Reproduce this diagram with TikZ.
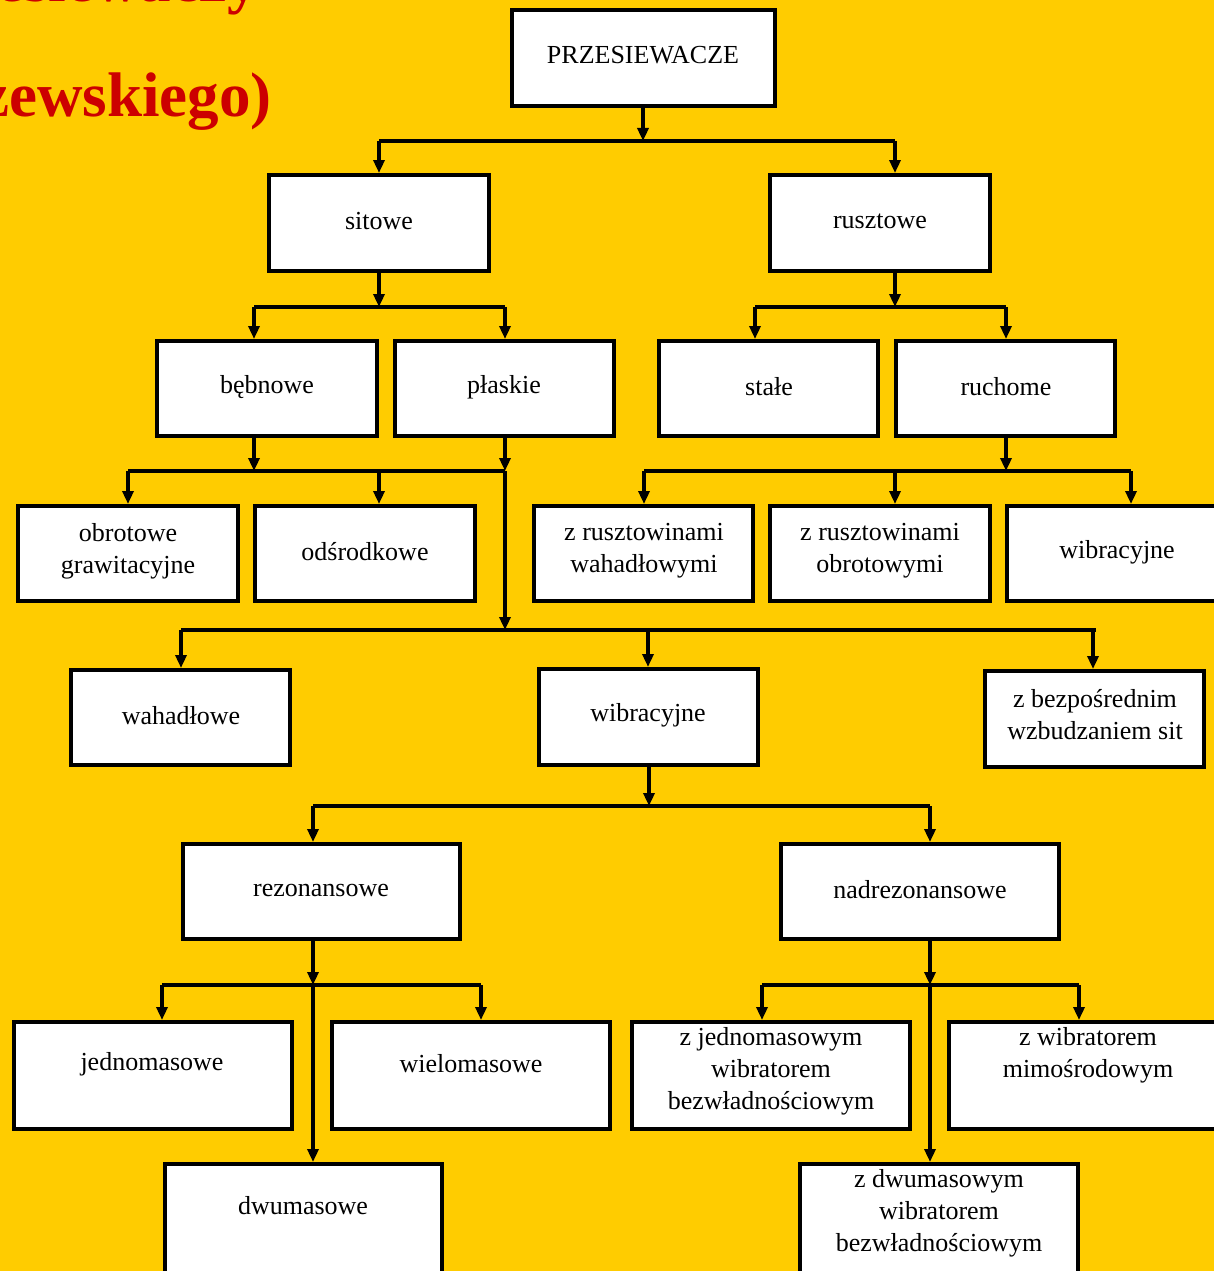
\documentclass[tikz,border=0pt]{standalone}
\usepackage{fontspec}
\setmainfont{Liberation Serif}
\usetikzlibrary{arrows.meta}
\definecolor{bgyellow}{HTML}{FFCC00}
\definecolor{titlered}{HTML}{CC0000}
\tikzset{
  box/.style={draw=black, line width=4pt, fill=white, inner sep=0pt,
              anchor=north west, minimum height=95pt},
  lbl/.style={align=center, inner sep=0pt, font=\fontsize{26}{32}\selectfont},
  wire/.style={line width=3.5pt, draw=black},
  arr/.style={wire, -{Triangle[length=13pt,width=11pt]}},
  headline/.style={text=titlered, inner sep=0pt, anchor=base east,
                   font=\fontsize{63}{70}\selectfont\bfseries},
}
\begin{document}
\begin{tikzpicture}[x=1pt, y=-1pt]
\fill[bgyellow] (0,0) rectangle (1214,1271);
\useasboundingbox (0,0) rectangle (1214,1271);

% heading, partly outside the page
\node[headline] (head1) at (259,2) {Klasyfikacja przesiewaczy};
\node[headline] (head2) at (272,117) {(wg Banaszewskiego)};

% boxes (placed by their outer top-left corner)
\node[box, minimum width=263pt, minimum height=96pt] (przes) at (510,8) {};
\node[box, minimum width=220pt, minimum height=96pt] (sitowe) at (267,173) {};
\node[box, minimum width=220pt, minimum height=96pt] (ruszt) at (768,173) {};
\node[box, minimum width=220pt] (bebn) at (155,339) {};
\node[box, minimum width=219pt] (plask) at (393,339) {};
\node[box, minimum width=219pt] (stale) at (657,339) {};
\node[box, minimum width=219pt] (ruch) at (894,339) {};
\node[box, minimum width=220pt] (obrgr) at (16,504) {};
\node[box, minimum width=220pt] (odsr) at (253,504) {};
\node[box, minimum width=219pt] (zrwah) at (532,504) {};
\node[box, minimum width=220pt] (zrobr) at (768,504) {};
\node[box, minimum width=240pt] (wibra) at (1005,504) {};
\node[box, minimum width=219pt] (wahad) at (69,668) {};
\node[box, minimum width=219pt, minimum height=96pt] (wibrb) at (537,667) {};
\node[box, minimum width=219pt, minimum height=96pt] (zbezp) at (983,669) {};
\node[box, minimum width=277pt] (rezon) at (181,842) {};
\node[box, minimum width=278pt] (nadrez) at (779,842) {};
\node[box, minimum width=278pt, minimum height=107pt] (jedno) at (12,1020) {};
\node[box, minimum width=278pt, minimum height=107pt] (wielo) at (330,1020) {};
\node[box, minimum width=278pt, minimum height=107pt] (zjedno) at (630,1020) {};
\node[box, minimum width=300pt, minimum height=107pt] (zwibr) at (947,1020) {};
\node[box, minimum width=277pt, minimum height=140pt] (dwu) at (163,1162) {};
\node[box, minimum width=278pt, minimum height=140pt] (zdwu) at (798,1162) {};

% labels
\node[lbl] (t-przes) at (643,55) {PRZESIEWACZE};
\node[lbl] (t-sitowe) at (379,221) {sitowe};
\node[lbl] (t-ruszt) at (880,221) {rusztowe};
\node[lbl] (t-bebn) at (267,387) {bębnowe};
\node[lbl] (t-plask) at (504,387) {płaskie};
\node[lbl] (t-stale) at (769,387) {stałe};
\node[lbl] (t-ruch) at (1006,387) {ruchome};
\node[lbl] (t-obrgr) at (128,551) {obrotowe\\grawitacyjne};
\node[lbl] (t-odsr) at (365,552) {odśrodkowe};
\node[lbl] (t-zrwah) at (644,551) {z rusztowinami\\wahadłowymi};
\node[lbl] (t-zrobr) at (880,551) {z rusztowinami\\obrotowymi};
\node[lbl] (t-wibra) at (1117,552) {wibracyjne};
\node[lbl] (t-wahad) at (181,716) {wahadłowe};
\node[lbl] (t-wibrb) at (648,715) {wibracyjne};
\node[lbl] (t-zbezp) at (1095,715) {z bezpośrednim\\wzbudzaniem sit};
\node[lbl] (t-rezon) at (321,890) {rezonansowe};
\node[lbl] (t-nadrez) at (920,890) {nadrezonansowe};
\node[lbl] (t-jedno) at (152,1064) {jednomasowe};
\node[lbl] (t-wielo) at (471,1064) {wielomasowe};
\node[lbl] (t-zjedno) at (771,1071) {z jednomasowym\\wibratorem\\bezwładnościowym};
\node[lbl] (t-zwibr) at (1088,1055) {z wibratorem\\mimośrodowym};
\node[lbl] (t-dwu) at (303,1206) {dwumasowe};
\node[lbl] (t-zdwu) at (939,1213) {z dwumasowym\\wibratorem\\bezwładnościowym};

% junction points on the buses
\coordinate (j1) at (643,141);
\coordinate (j1a) at (379,141);
\coordinate (j1b) at (895,141);
\coordinate (j2) at (379,307);
\coordinate (j2a) at (254,307);
\coordinate (j2b) at (505,307);
\coordinate (j3) at (895,307);
\coordinate (j3a) at (755,307);
\coordinate (j3b) at (1006,307);
\coordinate (j4) at (254,471);
\coordinate (j4a) at (128,471);
\coordinate (j4b) at (379,471);
\coordinate (j4c) at (505,471);
\coordinate (j5) at (1006,471);
\coordinate (j5a) at (644,471);
\coordinate (j5b) at (895,471);
\coordinate (j5c) at (1131,471);
\coordinate (j6) at (505,630);
\coordinate (j6a) at (181,630);
\coordinate (j6b) at (648,630);
\coordinate (j6c) at (1093,630);
\coordinate (j6e) at (1096,630);
\coordinate (j7) at (649,806);
\coordinate (j7a) at (313,806);
\coordinate (j7b) at (930,806);
\coordinate (j8) at (313,985);
\coordinate (j8a) at (162,985);
\coordinate (j8b) at (481,985);
\coordinate (j9) at (930,985);
\coordinate (j9a) at (762,985);
\coordinate (j9b) at (1079,985);

% PRZESIEWACZE
\draw[arr] (przes.south -| j1) -- (j1);
\draw[wire] (j1a) -- (j1b);
\draw[arr] (j1a) -- (sitowe.north -| j1a);
\draw[arr] (j1b) -- (ruszt.north -| j1b);
% sitowe
\draw[arr] (sitowe.south -| j2) -- (j2);
\draw[wire] (j2a) -- (j2b);
\draw[arr] (j2a) -- (bebn.north -| j2a);
\draw[arr] (j2b) -- (plask.north -| j2b);
% rusztowe
\draw[arr] (ruszt.south -| j3) -- (j3);
\draw[wire] (j3a) -- (j3b);
\draw[arr] (j3a) -- (stale.north -| j3a);
\draw[arr] (j3b) -- (ruch.north -| j3b);
% bębnowe
\draw[arr] (bebn.south -| j4) -- (j4);
\draw[wire] (j4a) -- (j4c);
\draw[arr] (j4a) -- (obrgr.north -| j4a);
\draw[arr] (j4b) -- (odsr.north -| j4b);
% płaskie
\draw[arr] (plask.south -| j4c) -- (j4c);
\draw[arr] (j4c) -- (j6);
\draw[wire] (j6a) -- (j6e);
\draw[arr] (j6a) -- (wahad.north -| j6a);
\draw[arr] (j6b) -- (wibrb.north -| j6b);
\draw[arr] (j6c) -- (zbezp.north -| j6c);
% ruchome
\draw[arr] (ruch.south -| j5) -- (j5);
\draw[wire] (j5a) -- (j5c);
\draw[arr] (j5a) -- (zrwah.north -| j5a);
\draw[arr] (j5b) -- (zrobr.north -| j5b);
\draw[arr] (j5c) -- (wibra.north -| j5c);
% wibracyjne
\draw[arr] (wibrb.south -| j7) -- (j7);
\draw[wire] (j7a) -- (j7b);
\draw[arr] (j7a) -- (rezon.north -| j7a);
\draw[arr] (j7b) -- (nadrez.north -| j7b);
% rezonansowe
\draw[arr] (rezon.south -| j8) -- (j8);
\draw[wire] (j8a) -- (j8b);
\draw[arr] (j8a) -- (jedno.north -| j8a);
\draw[arr] (j8b) -- (wielo.north -| j8b);
\draw[arr] (j8) -- (dwu.north -| j8);
% nadrezonansowe
\draw[arr] (nadrez.south -| j9) -- (j9);
\draw[wire] (j9a) -- (j9b);
\draw[arr] (j9a) -- (zjedno.north -| j9a);
\draw[arr] (j9b) -- (zwibr.north -| j9b);
\draw[arr] (j9) -- (zdwu.north -| j9);
\end{tikzpicture}
\end{document}
